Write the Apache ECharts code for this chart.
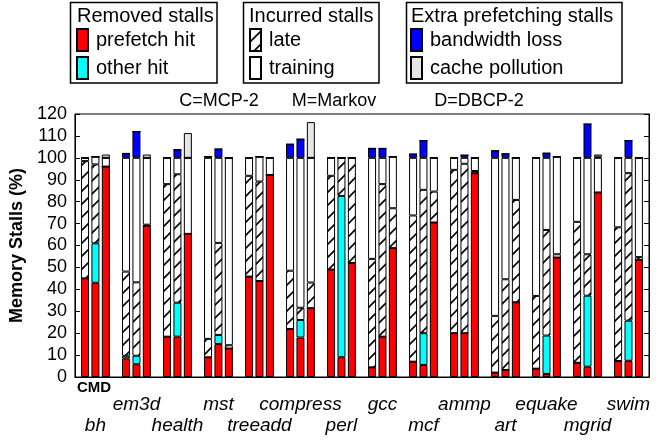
<!DOCTYPE html>
<html><head><meta charset="utf-8">
<script src="https://cdn.jsdelivr.net/npm/echarts@6/dist/echarts.min.js"></script>
<style>html,body{margin:0;padding:0;background:#fff}#c{width:668px;height:440px}</style>
</head><body><div id="c"></div>
<script>
const categories = ['bh','em3d','health','mst','treeadd','compress','perl','gcc','mcf','ammp','art','equake','mgrid','swim'];
const yTicks = [0,10,20,30,40,50,60,70,80,90,100,110,120];

// C = MCP-2
const C_prefetch  = [45, 8.5, 18.4, 9, 45.8, 21.9, 49, 4.4, 7, 20, 2, 3.8, 6.5, 7.3];
const C_other     = [0, 1.2, 0, 0, 0, 0, 0, 0, 0, 0, 0, 0, 0, 0];
const C_late      = [53.5, 38.4, 69.6, 8.4, 46, 26.6, 42.8, 49.5, 66.7, 74.5, 25.9, 33.2, 64.3, 61];
const C_training  = [1.5, 51.9, 12, 82.6, 8.2, 51.5, 8.2, 46.1, 26.3, 5.5, 72.1, 63, 29.2, 31.7];
const C_bandwidth = [0, 2, 0, 0.5, 0, 6.2, 0, 4.3, 1.7, 0, 3.2, 0, 0, 0];
const C_pollution = [0, 0, 0, 0, 0, 0, 0, 0, 0, 0, 0, 0, 0, 0];

// M = Markov
const M_prefetch  = [43, 5.8, 18.4, 15, 43.8, 18, 9, 18.4, 5.5, 20, 3.2, 1.4, 4.7, 7.4];
const M_other     = [18, 3.9, 15.5, 4.2, 0, 8, 73.6, 0, 14.5, 0, 0, 17.5, 32.4, 18.3];
const M_late      = [36, 33.5, 58.6, 42, 45.4, 5.6, 17.4, 69.6, 65.4, 77.3, 41.4, 48.2, 18.9, 67.3];
const M_training  = [3.5, 56.8, 7.5, 38.8, 11.3, 68.4, 0, 12, 14.6, 2.7, 55.4, 32.9, 44, 7];
const M_bandwidth = [0, 12, 3.7, 4, 0, 8.5, 0, 4.3, 7.9, 1.2, 1.8, 2.1, 15.4, 7.9];
const M_pollution = [0, 0, 0, 0, 0, 0, 0, 0, 0, 0, 0, 0, 0, 0];

// D = DBCP-2
const D_prefetch  = [96, 69, 65.3, 13, 92.2, 31.4, 52, 58.8, 70.5, 93, 34.1, 54.5, 84.2, 53.4];
const D_other     = [0, 0, 0, 0, 0, 0, 0, 0, 0, 0, 0, 0, 0, 0];
const D_late      = [0, 0.5, 0, 1.5, 0, 11.7, 48, 18.2, 14.1, 1, 46.7, 1.5, 0, 1.3];
const D_training  = [4, 30.5, 34.7, 85.5, 7.8, 56.9, 0, 23.5, 15.4, 6, 19.2, 44.5, 15.8, 45.3];
const D_bandwidth = [0, 0, 0, 0, 0, 0, 0, 0, 0, 0, 0, 0, 0.5, 0];
const D_pollution = [1.5, 1.5, 11.3, 0, 0, 16.3, 0, 0, 0, 0, 0, 0, 1, 0];

const FONT = '"Liberation Sans", Arial, Helvetica, sans-serif';

// hatch pattern for "late"
const T = 13;
const hatch = document.createElement('canvas');
hatch.width = T; hatch.height = T;
const g = hatch.getContext('2d');
g.fillStyle = '#fff'; g.fillRect(0, 0, T, T);
g.strokeStyle = '#000'; g.lineWidth = 1.6;
g.beginPath();
g.moveTo(-1, T + 1); g.lineTo(T + 1, -1);
g.moveTo(-1, 1); g.lineTo(1, -1);
g.moveTo(T - 1, T + 1); g.lineTo(T + 1, T - 1);
g.stroke();

const kinds = [
  {name: 'prefetch hit', color: '#ff0000'},
  {name: 'other hit', color: '#00ffff'},
  {name: 'late', color: {image: hatch, repeat: 'repeat'}},
  {name: 'training', color: '#ffffff'},
  {name: 'bandwidth loss', color: '#0000ff'},
  {name: 'cache pollution', color: '#e6e6e6'}
];
const algos = [
  ['C', [C_prefetch, C_other, C_late, C_training, C_bandwidth, C_pollution]],
  ['M', [M_prefetch, M_other, M_late, M_training, M_bandwidth, M_pollution]],
  ['D', [D_prefetch, D_other, D_late, D_training, D_bandwidth, D_pollution]]
];

const series = [];
algos.forEach(([stack, arrs]) => {
  kinds.forEach((k, i) => {
    series.push({
      type: 'bar', name: k.name, stack: stack,
      data: arrs[i], barWidth: 8, barGap: '30%',
      itemStyle: {color: k.color, borderColor: '#000', borderWidth: 1},
      emphasis: {disabled: true}, animation: false
    });
  });
});

const legendBase = {
  orient: 'vertical', top: 28, padding: 0, itemWidth: 11, itemHeight: 22, itemGap: 4,
  icon: 'rect', selectedMode: false,
  textStyle: {fontSize: 20, fontFamily: FONT, color: '#000', padding: [0, 0, 0, 3]}
};

const chart = echarts.init(document.getElementById('c'));
chart.setOption({
  animation: false,
  backgroundColor: '#fff',
  grid: {left: 73, right: 19, top: 114, bottom: 63, show: true, borderColor: '#000', borderWidth: 1, backgroundColor: 'transparent'},
  legend: [
    Object.assign({}, legendBase, {left: 76, data: ['prefetch hit', 'other hit']}),
    Object.assign({}, legendBase, {left: 249, data: ['late', 'training']}),
    Object.assign({}, legendBase, {left: 410, data: ['bandwidth loss', 'cache pollution']})
  ],
  xAxis: {
    type: 'category', data: categories,
    axisLine: {lineStyle: {color: '#000', width: 1}},
    axisTick: {show: false},
    axisLabel: {
      interval: 0, margin: 17, fontSize: 19, lineHeight: 21, fontStyle: 'italic',
      fontFamily: FONT, color: '#000',
      formatter: (v, i) => (i % 2 === 0 ? '\n' + v : v)
    }
  },
  yAxis: [
    {
      type: 'value', min: 0, max: 120, interval: 10,
      name: 'Memory Stalls (%)', nameLocation: 'middle', nameGap: 41,
      nameTextStyle: {fontSize: 18, fontWeight: 'bold', fontFamily: FONT, color: '#000'},
      axisLine: {show: true, lineStyle: {color: '#000'}},
      axisTick: {show: true, inside: true, length: 5, lineStyle: {color: '#000'}},
      splitLine: {show: false},
      axisLabel: {margin: 8, fontSize: 18, fontFamily: FONT, color: '#000',
        formatter: v => (yTicks.indexOf(v) >= 0 ? String(v) : '')}
    },
    {
      type: 'value', min: 0, max: 120, interval: 10, position: 'right',
      axisLine: {show: true, lineStyle: {color: '#000'}},
      axisTick: {show: true, inside: true, length: 5, lineStyle: {color: '#000'}},
      splitLine: {show: false},
      axisLabel: {show: false}
    }
  ],
  graphic: [
    {type: 'rect', shape: {x: 70.5, y: 2.5, width: 146.5, height: 80.5}, style: {fill: 'none', stroke: '#000', lineWidth: 1.5}},
    {type: 'rect', shape: {x: 243.5, y: 2.5, width: 135.5, height: 80.5}, style: {fill: 'none', stroke: '#000', lineWidth: 1.5}},
    {type: 'rect', shape: {x: 406.5, y: 2.5, width: 215.5, height: 80.5}, style: {fill: 'none', stroke: '#000', lineWidth: 1.5}},
    {type: 'text', x: 77, y: 16, style: {text: 'Removed stalls', fontSize: 20, fontFamily: FONT, fill: '#000', verticalAlign: 'middle'}},
    {type: 'text', x: 249, y: 16, style: {text: 'Incurred stalls', fontSize: 20, fontFamily: FONT, fill: '#000', verticalAlign: 'middle'}},
    {type: 'text', x: 411, y: 16, style: {text: 'Extra prefetching stalls', fontSize: 20, fontFamily: FONT, fill: '#000', verticalAlign: 'middle'}},
    {type: 'text', x: 219, y: 101, style: {text: 'C=MCP-2', fontSize: 18, fontFamily: FONT, fill: '#000', align: 'center', verticalAlign: 'middle'}},
    {type: 'text', x: 334, y: 101, style: {text: 'M=Markov', fontSize: 18, fontFamily: FONT, fill: '#000', align: 'center', verticalAlign: 'middle'}},
    {type: 'text', x: 479, y: 101, style: {text: 'D=DBCP-2', fontSize: 18, fontFamily: FONT, fill: '#000', align: 'center', verticalAlign: 'middle'}},
    {type: 'text', x: 94, y: 388, style: {text: 'CMD', fontSize: 15, fontWeight: 'bold', fontFamily: FONT, fill: '#000', align: 'center', verticalAlign: 'middle'}}
  ],
  series: series
});
</script>
</body></html>
